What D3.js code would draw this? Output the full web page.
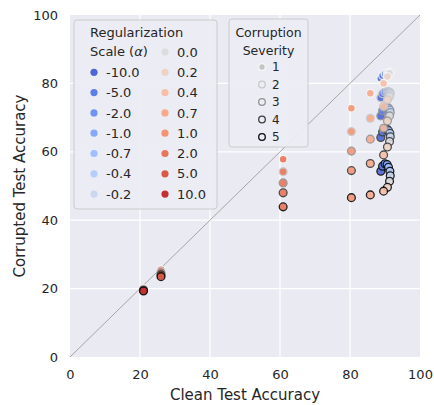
<!DOCTYPE html>
<html>
<head>
<meta charset="utf-8">
<script src="https://cdn.jsdelivr.net/npm/d3@7"></script>
<style>
  body { margin: 0; background: #fff; }
  text { font-family: "DejaVu Sans", sans-serif; fill: #262626; }
</style>
</head>
<body>
<div id="drawing"></div>
<script>
// regularization scales (alpha) and severities
var alphas = ["-10.0", "-5.0", "-2.0", "-1.0", "-0.7", "-0.4", "-0.2",
              "0.0", "0.2", "0.4", "0.7", "1.0", "2.0", "5.0", "10.0"];
var severities = [1, 2, 3, 4, 5];

// clean accuracy, one per alpha
var cleanAcc = [88.8, 89.3, 90.0, 90.6, 91.0, 91.4, 91.5,
                91.3, 90.7, 89.6, 85.8, 80.4, 60.9, 26.0, 21.0];

// corrupted accuracy per severity (rows), per alpha (columns)
var sev1 = [81.5, 82.3, 82.8, 83.0, 83.2, 83.3, 83.3, 83.0, 82.0, 80.0, 77.1, 72.7, 57.8, 25.5, 20.0];
var sev2 = [75.8, 77.0, 77.5, 77.6, 77.6, 77.4, 77.0, 76.2, 75.2, 73.3, 69.8, 65.9, 54.2, 25.0, 19.8];
var sev3 = [70.5, 72.0, 72.8, 73.0, 72.8, 72.2, 71.5, 70.5, 69.0, 66.9, 63.7, 60.2, 50.9, 24.5, 19.6];
var sev4 = [64.2, 65.8, 66.6, 66.6, 66.2, 65.4, 64.4, 63.0, 61.4, 59.1, 56.6, 54.5, 48.0, 24.0, 19.5];
var sev5 = [54.3, 55.8, 56.5, 56.3, 55.5, 54.3, 53.0, 51.4, 49.6, 48.5, 47.4, 46.6, 43.9, 23.5, 19.3];
var corrupted = [sev1, sev2, sev3, sev4, sev5];

var xTicks = [0, 20, 40, 60, 80, 100];
var yTicks = [0, 20, 40, 60, 80, 100];

var width = 434, height = 405;
var margin = {top: 15, right: 14, bottom: 48, left: 70};
var w = width - margin.left - margin.right;
var h = height - margin.top - margin.bottom;

var alphaColor = d3.scaleOrdinal()
  .domain(alphas)
  .range(["#4c66d6", "#5c7ee6", "#7093f3", "#85a8fc", "#9ebefe", "#b4cdfa", "#c9d7f0",
          "#dddcdc", "#ecd3c5", "#f6bfa6", "#f7a98b", "#f39475", "#e8765c", "#d95847", "#c43032"]);
var sevEdge = d3.scaleOrdinal()
  .domain(severities)
  .range(["#f6f6f6", "#c8c8c8", "#929292", "#3c3c3c", "#0a0a0a"]);

var svg = d3.select("#drawing").append("svg")
  .attr("width", width)
  .attr("height", height);

var g = svg.append("g")
  .attr("transform", `translate(${margin.left}, ${margin.top})`);

var x = d3.scaleLinear().domain([0, 100]).range([0, w]);
var y = d3.scaleLinear().domain([0, 100]).range([h, 0]);

g.append("rect")
  .attr("width", w).attr("height", h)
  .attr("fill", "#eaeaf2");

// grid
g.append("g").selectAll("line").data(xTicks.slice(1, -1)).join("line")
  .attr("x1", d => x(d)).attr("x2", d => x(d))
  .attr("y1", 0).attr("y2", h)
  .attr("stroke", "#fff").attr("stroke-width", 1.2);
g.append("g").selectAll("line").data(yTicks.slice(1, -1)).join("line")
  .attr("y1", d => y(d)).attr("y2", d => y(d))
  .attr("x1", 0).attr("x2", w)
  .attr("stroke", "#fff").attr("stroke-width", 1.2);

// axes
var xAxis = g.append("g")
  .attr("transform", `translate(0, ${h})`)
  .call(d3.axisBottom(x).tickValues(xTicks).tickSize(0).tickPadding(13));
var yAxis = g.append("g")
  .call(d3.axisLeft(y).tickValues(yTicks).tickSize(0).tickPadding(12));
[xAxis, yAxis].forEach(a => {
  a.select(".domain").remove();
  a.selectAll("text").attr("font-size", 13).attr("font-family", "DejaVu Sans").attr("fill", "#262626");
});

g.append("text")
  .attr("x", w / 2).attr("y", h + 43)
  .attr("text-anchor", "middle")
  .attr("font-size", 15)
  .text("Clean Test Accuracy");
g.append("text")
  .attr("transform", `translate(${-45}, ${h / 2}) rotate(-90)`)
  .attr("text-anchor", "middle")
  .attr("font-size", 15)
  .text("Corrupted Test Accuracy");

// diagonal
g.append("line")
  .attr("x1", x(0)).attr("y1", y(0))
  .attr("x2", x(100)).attr("y2", y(100))
  .attr("stroke", "#a6a6a6").attr("stroke-width", 1);

// points
var points = [];
alphas.forEach((a, i) => {
  severities.forEach((s, j) => {
    points.push({alpha: a, sev: s, clean: cleanAcc[i], corr: corrupted[j][i]});
  });
});

g.append("g").selectAll("circle").data(points).join("circle")
  .attr("cx", d => x(d.clean))
  .attr("cy", d => y(d.corr))
  .attr("r", 3.9)
  .attr("fill", d => alphaColor(d.alpha))
  .attr("stroke", d => sevEdge(d.sev))
  .attr("stroke-width", 1.3)
  .attr("opacity", 0.9);

// legend: regularization scale
var leg1 = svg.append("g").attr("transform", "translate(74, 20)");
leg1.append("rect")
  .attr("width", 143).attr("height", 189)
  .attr("rx", 3)
  .attr("fill", "#ececf3").attr("fill-opacity", 0.95)
  .attr("stroke", "#cccccc");
leg1.append("text").attr("x", 16).attr("y", 17).attr("font-size", 13).text("Regularization");
leg1.append("text").attr("x", 16).attr("y", 36).attr("font-size", 13)
  .html('Scale (<tspan font-style="italic">α</tspan>)');

var rowH = 20.3;
alphas.forEach((a, i) => {
  var col = i < 7 ? 0 : 1;
  var row = i < 7 ? i + 1 : i - 7;
  var cx = col === 0 ? 20 : 91;
  var cy = 32 + row * rowH;
  leg1.append("circle")
    .attr("cx", cx).attr("cy", cy).attr("r", 3.6)
    .attr("fill", alphaColor(a));
  leg1.append("text")
    .attr("x", cx + 12).attr("y", cy)
    .attr("dy", "0.36em")
    .attr("font-size", 13)
    .text(a);
});

// legend: corruption severity
var leg2 = svg.append("g").attr("transform", "translate(229, 19)");
leg2.append("rect")
  .attr("width", 79).attr("height", 128)
  .attr("rx", 3)
  .attr("fill", "#ececf3").attr("fill-opacity", 0.95)
  .attr("stroke", "#cccccc");
leg2.append("text").attr("x", 39.5).attr("y", 18).attr("text-anchor", "middle")
  .attr("font-size", 12.5).text("Corruption");
leg2.append("text").attr("x", 39.5).attr("y", 36).attr("text-anchor", "middle")
  .attr("font-size", 12.5).text("Severity");
severities.forEach((s, i) => {
  var cy = 48 + i * 17.5;
  leg2.append("circle")
    .attr("cx", 33).attr("cy", cy).attr("r", 3.3)
    .attr("fill", i === 0 ? "#c4c4c4" : "none")
    .attr("stroke", sevEdge(s))
    .attr("stroke-width", 1.3);
  leg2.append("text")
    .attr("x", 43).attr("y", cy).attr("dy", "0.36em")
    .attr("font-size", 12)
    .text(s);
});
</script>
</body>
</html>
